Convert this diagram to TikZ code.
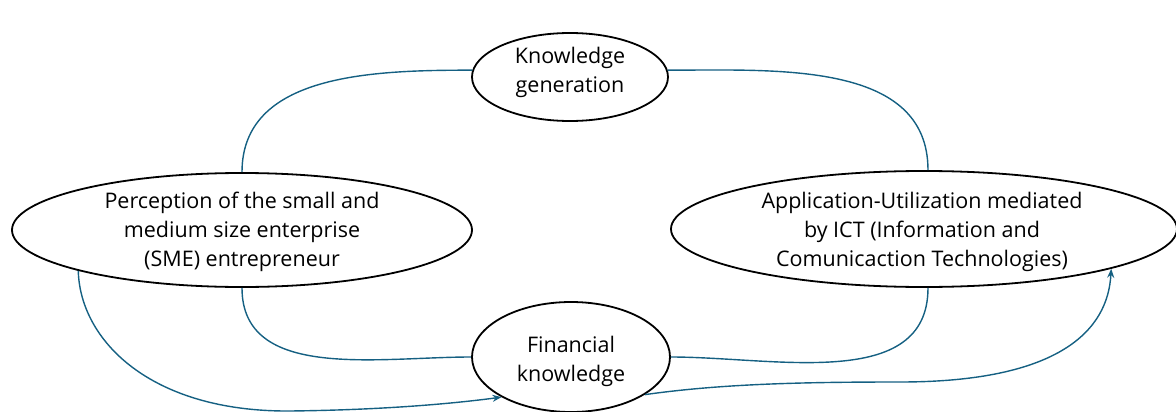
\documentclass[tikz,border=0pt]{standalone}
\usepackage{fontspec}
\setmainfont{Open Sans}
\usetikzlibrary{shapes.geometric,arrows.meta}
\definecolor{linkblue}{RGB}{21,96,130}
\begin{document}
\begin{tikzpicture}[x=1pt,y=1pt,
  bubble/.style={draw=black,line width=1.8pt,ellipse,inner sep=0pt},
  caption/.style={inner sep=0pt,align=center,font=\fontsize{21.5}{29}\selectfont},
  link/.style={draw=linkblue,line width=1.4pt},
  flow/.style={link,-{Stealth[length=9pt,width=7pt]}}]
\useasboundingbox (0,0) rectangle (1176,-412);
% outlines
\node[bubble,minimum width=196pt,minimum height=88pt] (kg) at (570,-77) {};
\node[bubble,minimum width=460pt,minimum height=114pt] (sme) at (242,-230) {};
\node[bubble,minimum width=506pt,minimum height=116pt] (ict) at (924,-229) {};
\node[bubble,minimum width=198pt,minimum height=110pt] (fin) at (571,-357) {};
% captions
\node[caption] (kgtext) at ([yshift=5pt]kg.center) {Knowledge\\generation};
\node[caption] (smetext) at ([yshift=-2pt]sme.center) {Perception of the small and\\medium size enterprise\\(SME) entrepreneur};
\node[caption] (icttext) at ([xshift=-2pt,yshift=-3pt]ict.center) {Application-Utilization mediated\\by ICT (Information and\\Comunicaction Technologies)};
\node[caption] (fintext) at ([yshift=-4pt]fin.center) {Financial\\knowledge};
% cycle connectors
\draw[link] (sme.north) to[out=90,in=180] (kg.176);
\draw[link] (kg.4) to[out=0,in=90] ([xshift=4pt]ict.north);
\draw[link] (sme.south) to[out=-90,in=180] (fin.west);
\draw[link] (fin.east) to[out=0,in=-90] ([xshift=4pt]ict.south);
% directed flows
\coordinate (lowL) at (290,-411);
\coordinate (lowR) at (900,-382);
\draw[flow] (sme.194) .. controls (80,-340) and (150,-412) .. (lowL)
  .. controls (380,-410) and (450,-404) .. (fin.210);
\draw[flow] (fin.333) .. controls (720,-384) and (800,-382) .. (lowR)
  .. controls (1060,-382) and (1108,-330) .. (ict.348);
\end{tikzpicture}
\end{document}
